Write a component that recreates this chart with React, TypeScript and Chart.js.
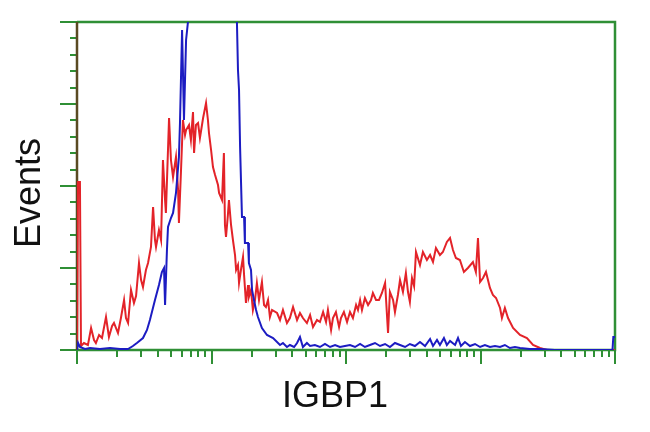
import { useEffect, useRef } from 'react';
import { Chart, registerables } from 'chart.js';

Chart.register(...registerables);

// ---- Text ----
const xTitle = 'IGBP1';
const yTitle = 'Events';

// ---- Axes ----
const channelMax = 256; // 4 log decades, 64 channels per decade
const countMax = 328;
const decadeChannels = [0, 64, 128, 192, 256];
const minorMultiples = [2, 3, 4, 5, 6, 7, 8, 9];
const yMajorTicks = [0, 82, 164, 246, 328];
const yMinorTicks = [16.4, 32.8, 49.2, 65.6, 98.4, 114.8, 131.2, 147.6, 180.4, 196.8, 213.2, 229.6, 262.4, 278.8, 295.2, 311.6];

// ---- Red series (sample) ----
const redChannels = [
  0, 0.5, 1.4, 1.9, 3.3, 5.2, 6.7, 8.1, 9.0, 10.5,
  11.9, 13.8, 15.2, 16.7, 17.6, 19.5, 20.9, 22.4, 23.3, 24.3,
  25.7, 27.1, 28.1, 29.5, 30.5, 31.4, 32.8, 33.8, 35.2, 36.2,
  37.1, 37.6, 39.0, 40.0, 40.9, 41.9, 42.3, 43.8, 44.7, 45.7,
  47.1, 48.1, 48.5, 49.5, 50.4, 51.4, 51.9, 53.3, 54.2, 55.2,
  55.7, 56.6, 57.6, 58.5, 60.0, 61.4, 62.3, 62.8, 63.8, 64.7,
  65.7, 67.1, 67.6, 69.0, 69.9, 70.4, 70.9, 71.8, 72.3, 73.3,
  74.2, 75.2, 75.7, 76.6, 77.1, 78.0, 79.0, 79.5, 80.4, 81.4,
  81.8, 82.8, 83.7, 84.7, 85.6, 86.6, 88.0, 89.0, 89.9, 90.9,
  91.8, 92.8, 95.2, 96.6, 98.0, 99.9, 101.3, 102.8, 104.7, 106.1,
  107.5, 109.4, 110.9, 112.3, 114.2, 115.6, 117.1, 118.5, 119.4, 120.9,
  121.8, 123.2, 124.7, 125.6, 127.0, 128.5, 129.9, 131.3, 132.8, 133.7,
  134.7, 135.6, 137.0, 138.5, 139.9, 140.8, 142.3, 143.7, 145.1, 146.6,
  148.0, 148.9, 150.4, 151.3, 152.7, 153.7, 155.1, 156.5, 157.5, 158.4,
  159.4, 160.4, 161.3, 163.2, 164.6, 166.5, 168.0, 169.4, 170.8, 172.7,
  174.1, 176.0, 177.5, 178.9, 180.3, 182.2, 184.1, 186.0, 188.4, 189.8,
  190.8, 191.8, 193.2, 194.6, 196.5, 197.9, 199.4, 201.3, 202.2, 203.6,
  205.1, 207.5, 210.8, 214.1, 217.0, 220.3, 223.6, 256,
];
const redCounts = [
  0, 168, 168, 4, 7, 5, 22, 10, 7, 15,
  12, 33, 13, 24, 27, 17, 32, 50, 32, 27,
  60, 47, 54, 87, 70, 63, 80, 87, 103, 143,
  110, 103, 120, 110, 190, 150, 137, 232, 190, 173,
  193, 160, 127, 180, 230, 215, 220, 225, 210, 238,
  197, 225, 227, 212, 232, 247, 230, 217, 200, 183,
  175, 165, 157, 150, 197, 125, 113, 135, 150, 125,
  110, 95, 80, 85, 67, 80, 93, 75, 47, 65,
  53, 60, 40, 50, 67, 50, 68, 45, 43, 50,
  33, 40, 37, 30, 40, 27, 32, 43, 30, 37,
  32, 27, 35, 23, 30, 28, 38, 28, 40, 20,
  32, 38, 23, 32, 38, 28, 38, 32, 45, 40,
  50, 40, 52, 45, 50, 57, 50, 50, 57, 67,
  17, 58, 50, 38, 55, 70, 58, 77, 58, 48,
  72, 64, 98, 85, 98, 90, 95, 88, 102, 95,
  98, 108, 112, 100, 92, 90, 78, 82, 88, 78,
  112, 68, 72, 78, 62, 55, 52, 42, 32, 42,
  32, 22, 15, 12, 5, 2, 0, 0,
];

// ---- Blue series (control) ----
const blueChannels = [
  0, 0.5, 1.4, 3.8, 6.2, 10.9, 15.7, 20.5, 24.3, 26.6,
  28.5, 31.4, 33.3, 34.7, 37.1, 39.0, 40.4, 41.4, 41.9, 42.8,
  43.3, 44.7, 45.7, 47.1, 48.5, 49.0, 50.0, 50.9, 51.9, 52.8,
  53.8, 56, 60, 64, 68, 72, 75, 76.1, 76.6, 77.1,
  77.6, 78.0, 78.5, 79.5, 79.9, 81.4, 81.8, 82.8, 83.3, 84.2,
  85.2, 86.1, 88.0, 90.4, 93.3, 96.6, 98.0, 99.9, 101.3, 103.3,
  104.7, 106.1, 107.5, 109.4, 110.9, 113.2, 115.6, 118.0, 120.4, 122.8,
  125.1, 127.5, 129.9, 132.3, 134.7, 137.0, 139.4, 141.8, 144.2, 146.6,
  148.9, 151.3, 153.7, 156.1, 158.4, 160.8, 163.2, 165.6, 168.0, 169.4,
  171.3, 172.7, 174.6, 176.0, 177.5, 179.9, 181.3, 182.7, 184.6, 187.0,
  189.4, 191.8, 194.1, 196.5, 198.9, 201.3, 203.6, 206.0, 208.4, 210.8,
  215.5, 220.3, 227.4, 254.8, 255.2, 256,
];
const blueCounts = [
  0, 7, 3, 1, 2, 1, 2, 1, 1, 4,
  7, 12, 20, 30, 50, 65, 78, 82, 45, 100,
  123, 132, 137, 157, 193, 227, 320, 230, 310, 328,
  400, 480, 560, 600, 560, 480, 400, 328, 280, 260,
  203, 203, 133, 133, 107, 107, 87, 80, 60, 50,
  40, 33, 22, 15, 12, 5, 7, 3, 5, 3,
  7, 13, 3, 7, 4, 5, 3, 6, 3, 5,
  3, 4, 5, 3, 6, 3, 5, 7, 4, 6,
  3, 7, 5, 3, 6, 4, 8, 4, 11, 4,
  10, 5, 12, 5, 9, 5, 12, 4, 8, 4,
  6, 3, 5, 3, 4, 3, 5, 2, 3, 2,
  1, 1, 0, 0, 13, 13,
];

const GREEN = '#2f8f35';
const LEFT_AXIS = '#5a4a22';
const RED = '#e32329';
const BLUE = '#1c1cc2';
const FONT = '36px "Liberation Sans", Arial, sans-serif';

const zip = (xs: number[], ys: number[]) => xs.map((x, i) => ({ x, y: ys[i] }));

const framePlugin = {
  id: 'cytoFrame',
  beforeDatasetsDraw(chart: any) {
    const { ctx, chartArea, scales } = chart;
    const { left, right, top, bottom } = chartArea;
    const xs = scales.x;
    const ys = scales.y;
    ctx.save();
    ctx.lineCap = 'butt';
    ctx.strokeStyle = GREEN;
    ctx.lineWidth = 2;
    // y ticks (outside, left)
    ctx.beginPath();
    yMajorTicks.forEach((v) => {
      const py = Math.round(ys.getPixelForValue(v));
      ctx.moveTo(left - 17, py);
      ctx.lineTo(left, py);
    });
    yMinorTicks.forEach((v) => {
      const py = Math.round(ys.getPixelForValue(v));
      ctx.moveTo(left - 7, py);
      ctx.lineTo(left, py);
    });
    // x ticks (outside, bottom)
    decadeChannels.forEach((c) => {
      const px = Math.round(xs.getPixelForValue(c));
      ctx.moveTo(px, bottom);
      ctx.lineTo(px, bottom + 14);
    });
    for (let d = 0; d < decadeChannels.length - 1; d++) {
      const span = decadeChannels[d + 1] - decadeChannels[d];
      minorMultiples.forEach((k) => {
        const px = Math.round(xs.getPixelForValue(decadeChannels[d] + span * Math.log10(k)));
        ctx.moveTo(px, bottom);
        ctx.lineTo(px, bottom + 7);
      });
    }
    ctx.stroke();
    // frame
    ctx.lineWidth = 2.5;
    ctx.beginPath();
    ctx.moveTo(left, top);
    ctx.lineTo(right, top);
    ctx.lineTo(right, bottom);
    ctx.lineTo(left, bottom);
    ctx.stroke();
    ctx.strokeStyle = LEFT_AXIS;
    ctx.beginPath();
    ctx.moveTo(left, top);
    ctx.lineTo(left, bottom);
    ctx.stroke();
    ctx.restore();
  },
  afterDraw(chart: any) {
    const { ctx, chartArea } = chart;
    const { left, right, top, bottom } = chartArea;
    ctx.save();
    ctx.fillStyle = '#111';
    ctx.font = FONT;
    ctx.textAlign = 'center';
    ctx.textBaseline = 'alphabetic';
    ctx.fillText(xTitle, (left + right) / 2 - 11, bottom + 57);
    ctx.translate(left - 37, (top + bottom) / 2 + 7);
    ctx.rotate(-Math.PI / 2);
    ctx.fillText(yTitle, 0, 0);
    ctx.restore();
  },
};

export default function App() {
  const ref = useRef<HTMLCanvasElement>(null);
  useEffect(() => {
    const chart = new Chart(ref.current as HTMLCanvasElement, {
      type: 'line',
      data: {
        datasets: [
          {
            label: 'Control',
            data: zip(blueChannels, blueCounts),
            borderColor: BLUE,
            borderWidth: 2,
            pointRadius: 0,
            tension: 0,
          },
          {
            label: 'IGBP1',
            data: zip(redChannels, redCounts),
            borderColor: RED,
            borderWidth: 2,
            pointRadius: 0,
            tension: 0,
          },
        ],
      },
      options: {
        animation: false,
        responsive: false,
        events: [],
        layout: { padding: { left: 77, top: 22, right: 35, bottom: 82 } },
        plugins: { legend: { display: false }, tooltip: { enabled: false } },
        scales: {
          x: { type: 'linear', min: 0, max: channelMax, display: false },
          y: { type: 'linear', min: 0, max: countMax, display: false },
        },
      },
      plugins: [framePlugin],
    });
    return () => chart.destroy();
  }, []);
  return (
    <div style={{ position: 'fixed', left: 0, top: 0, width: 650, height: 432, background: '#fff' }}>
      <canvas ref={ref} width={650} height={432} style={{ display: 'block', width: 650, height: 432 }} />
    </div>
  );
}
